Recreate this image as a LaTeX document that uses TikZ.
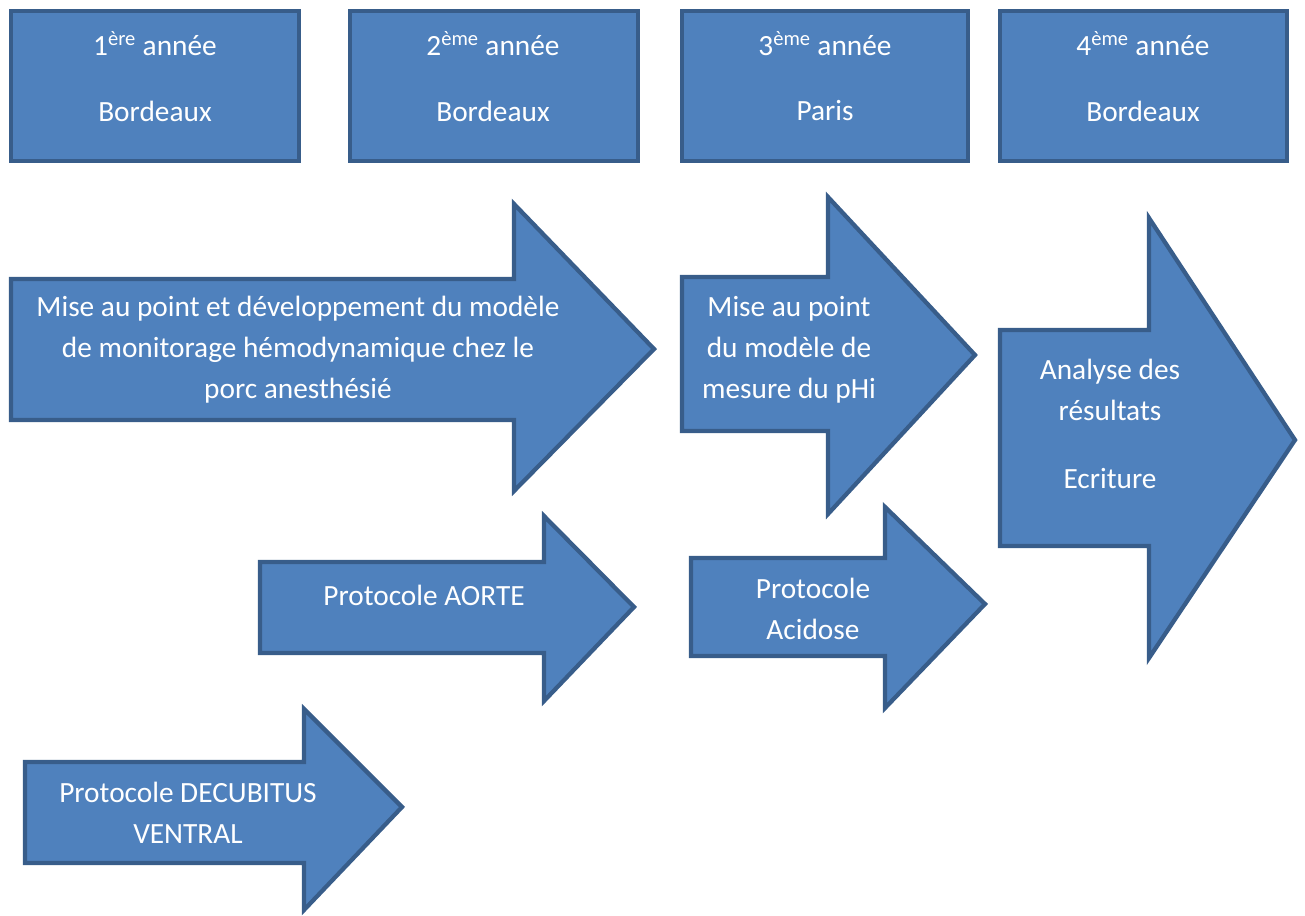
\documentclass[tikz,border=0pt]{standalone}
\usepackage{fontspec}
\setmainfont{Carlito}
\definecolor{fillblue}{HTML}{4F81BD}
\definecolor{edgeblue}{HTML}{385D8A}
\begin{document}
\begin{tikzpicture}[x=0.75pt,y=-0.75pt,
  shapestyle/.style={fill=fillblue,draw=edgeblue,line width=3.2pt,line join=miter},
  label/.style={text=white,align=center,font=\fontsize{22}{30.75}\selectfont,inner sep=0pt}]
\useasboundingbox (0,0) rectangle (1305,916);
% year boxes
\draw[shapestyle] (11,11) rectangle (299,161);
\draw[shapestyle] (350,11) rectangle (638,161);
\draw[shapestyle] (682,11) rectangle (968,161);
\draw[shapestyle] (1000,11) rectangle (1287,161);
\node[label] (y1) at (155,44) {1\textsuperscript{ère} année};
\node[label] (c1) at (155,111) {Bordeaux};
\node[label] (y2) at (493,44) {2\textsuperscript{ème} année};
\node[label] (c2) at (493,111) {Bordeaux};
\node[label] (y3) at (825,44) {3\textsuperscript{ème} année};
\node[label] (c3) at (825,111) {Paris};
\node[label] (y4) at (1143,44) {4\textsuperscript{ème} année};
\node[label] (c4) at (1143,111) {Bordeaux};
% arrows
\draw[shapestyle] (11,279) -- (514,279) -- (514,204) -- (654,349) -- (514,491) -- (514,420) -- (11,420) -- cycle;
\draw[shapestyle] (682,277) -- (828,277) -- (828,197) -- (975,355) -- (828,514) -- (828,431) -- (682,431) -- cycle;
\draw[shapestyle] (1000,330) -- (1149,330) -- (1149,218) -- (1295,440) -- (1149,658) -- (1149,546) -- (1000,546) -- cycle;
\draw[shapestyle] (260,562) -- (544,562) -- (544,516) -- (634,607) -- (544,701) -- (544,653) -- (260,653) -- cycle;
\draw[shapestyle] (691,558) -- (885,558) -- (885,507) -- (985,604) -- (885,708) -- (885,656) -- (691,656) -- cycle;
\draw[shapestyle] (25,762) -- (304,762) -- (304,709) -- (402,807) -- (304,910) -- (304,863) -- (25,863) -- cycle;
% arrow texts
\node[label] (t1) at (298,350) {Mise au point et développement du modèle\\de monitorage hémodynamique chez le\\porc anesthésié};
\node[label] (t2) at (789,350) {Mise au point\\du modèle de\\mesure du pHi};
\node[label] (t3a) at (1110,390) {Analyse des\\résultats};
\node[label] (t3b) at (1110,479) {Ecriture};
\node[label] (t4) at (424,595) {Protocole AORTE};
\node[label] (t5) at (813,609) {Protocole\\Acidose};
\node[label] (t6) at (188,813) {Protocole DECUBITUS\\VENTRAL};
\end{tikzpicture}
\end{document}
